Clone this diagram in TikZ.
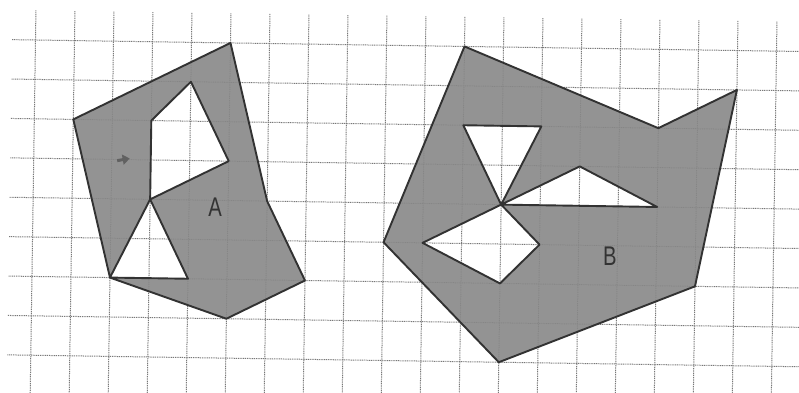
\documentclass[tikz,border=0pt]{standalone}
\usepackage{fontspec}
\setmainfont{Liberation Sans}
\usetikzlibrary{arrows.meta}
\definecolor{shadefill}{RGB}{136,136,136}
\definecolor{outlinec}{RGB}{50,50,50}
\definecolor{gridc}{RGB}{120,120,120}
\tikzset{
  gridline/.style={gridc, line width=1pt, dash pattern=on 1pt off 0.8pt},
  region/.style={fill=shadefill, fill opacity=0.9, even odd rule, draw=outlinec, line width=1.9pt, line join=round},
  letter/.style={font=\fontsize{27}{27}\selectfont, text=black!80, xscale=0.75, inner sep=0pt}
}
\begin{document}
\begin{tikzpicture}[x=1pt,y=1pt]
\useasboundingbox (0,0) rectangle (799,-392);
\fill[white] (0,0) rectangle (799,-392);
\begin{scope}[shift={(35.5,-40)}, x={(39pt,-0.585pt)}, y={(-0.59pt,-39.4pt)}]
  % grid
  \foreach \i in {0,...,19} \draw[gridline] (\i,-0.75) -- (\i,9.3);
  \foreach \j in {0,...,8} \draw[gridline] (-0.6,\j) -- (19.9,\j);
  % shape A
  \path[region]
    (5,0) -- (6,4) -- (7,6) -- (5,7) -- (2,6) -- (1,2) -- cycle
    (4,1) -- (3,2) -- (3,4) -- (5,3) -- cycle
    (3,4) -- (2,6) -- (4,6) -- cycle;
  % shape B
  \path[region]
    (11,0) -- (16,2) -- (18,1) -- (17,6) -- (12,8) -- (9,5) -- cycle
    (11,2) -- (13,2) -- (12,4) -- cycle
    (12,4) -- (14,3) -- (16,4) -- cycle
    (12,4) -- (10,5) -- (12,6) -- (13,5) -- cycle;
  % labels
  \node[letter] (labA) at (4.67,4.17) {A};
  \node[letter] (labB) at (14.81,5.26) {B};
  % small mark
  \coordinate (mk1) at (2.14,3.03);
  \coordinate (mk2) at (2.46,2.97);
  \draw[black!62, line width=3pt, -{Triangle[length=7pt,width=10pt]}] (mk1) -- (mk2);
\end{scope}
\end{tikzpicture}
\end{document}
